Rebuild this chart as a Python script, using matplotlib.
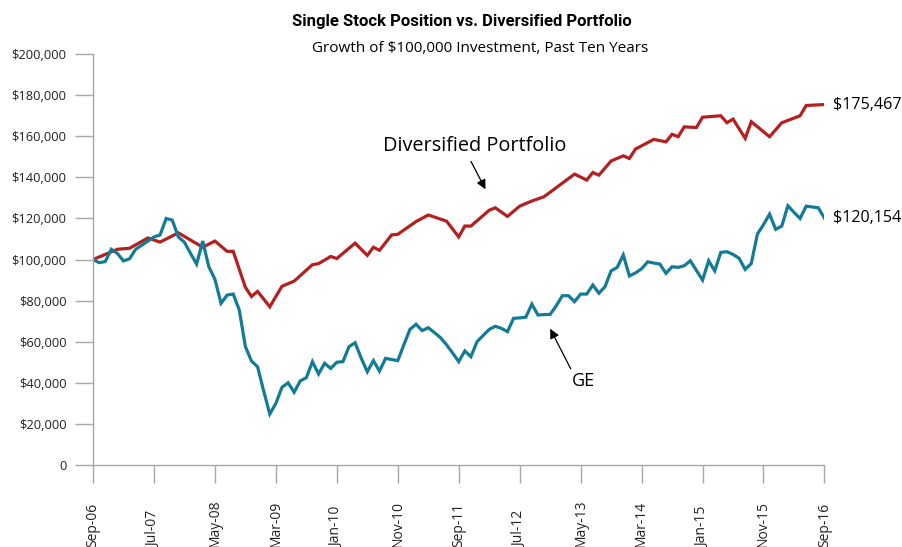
import matplotlib.pyplot as plt
from matplotlib.ticker import FuncFormatter

# months are counted from Sep-06 (0) to Sep-16 (120)
tick_labels = ['Sep-06', 'Jul-07', 'May-08', 'Mar-09', 'Jan-10', 'Nov-10', 'Sep-11',
               'Jul-12', 'May-13', 'Mar-14', 'Jan-15', 'Nov-15', 'Sep-16']
tick_months = [0, 10, 20, 30, 40, 50, 60, 70, 80, 90, 100, 110, 120]

# diversified portfolio (corner points of the line)
div_months = [0, 4, 6, 9, 11, 14, 18, 20, 22, 23, 25, 26, 27, 29, 31, 33, 36, 37, 39, 40,
              43, 45, 46, 47, 49, 50, 53, 55, 58, 60, 61, 62, 65, 66, 68, 70, 72, 74, 79, 81,
              82, 83, 85, 87, 88, 89, 92, 94, 95, 96, 97, 99, 100, 103, 104, 105, 107, 108,
              111, 113, 116, 117, 120]
div_values = [100000, 105000, 105500, 110500, 108500, 113000, 106000, 109000, 104000, 104000,
              86500, 82000, 84500, 77000, 87000, 89500, 97500, 98000, 101500, 100500,
              108000, 102000, 106000, 104500, 112000, 112300, 118500, 121700, 118700, 111000,
              116300, 116300, 124000, 125200, 121000, 126000, 128500, 130600, 141600, 138700,
              142400, 141100, 148000, 150500, 149200, 153800, 158500, 157300, 161000, 159800,
              164600, 164300, 169300, 170000, 166600, 168400, 159000, 167100,
              159800, 166600, 170000, 175000, 175467]

# GE, one value per month
ge_values = [100000, 98500, 99000, 105000, 103000, 99300, 100400, 105000, 107000, 109000,
             111000, 112000, 120000, 119200, 111000, 108400, 103000, 97800, 109000, 96500,
             90400, 78700, 82700, 83200, 75400, 57600, 50600, 47800, 36000, 24800,
             30000, 37800, 40000, 35400, 40900, 42500, 50300, 44300, 49500, 47000,
             50000, 50300, 57600, 59500, 52000, 45400, 50800, 45700, 51900, 51300,
             50800, 58500, 66000, 68500, 65400, 66800, 64500, 62000, 58500, 54500,
             50300, 55500, 52700, 60000, 63000, 66000, 67500, 66500, 64900, 71400,
             71600, 71900, 78300, 73000, 73200, 73300, 77500, 82400, 82400, 79500,
             83200, 83200, 87600, 83600, 86800, 94500, 96200, 102200, 92000, 93500,
             95500, 98900, 98300, 97800, 93300, 96500, 96200, 97000, 99400, 94700,
             90000, 99400, 94500, 103500, 103800, 102500, 100600, 95200, 98100, 112400,
             117000, 122100, 114700, 116300, 126200, 123000, 120000, 126000, 125600, 125200,
             120154]
ge_months = list(range(len(ge_values)))

red = '#b3201f'
teal = '#137b95'
grey = '#a6a6a6'

plt.rcParams['font.family'] = ['Open Sans', 'DejaVu Sans']

fig = plt.figure(figsize=(9.03, 5.47), dpi=100)
ax = fig.add_axes([0.103, 0.150, 0.810, 0.751])

ax.plot(div_months, div_values, color=red, lw=2.3, solid_joinstyle='miter')
ax.plot(ge_months, ge_values, color=teal, lw=2.3, solid_joinstyle='miter')

ax.set_xlim(0, 120)
ax.set_ylim(0, 200000)

# axes look: only left and bottom lines, grey, long outward ticks
for side in ['top', 'right']:
    ax.spines[side].set_visible(False)
for side in ['left', 'bottom']:
    ax.spines[side].set_color(grey)
    ax.spines[side].set_linewidth(1.0)
ax.tick_params(axis='both', direction='out', length=13, width=1.0, color=grey,
               labelsize=9.3, labelcolor='#222222')
ax.tick_params(axis='y', pad=6)

ax.set_yticks(range(0, 200001, 20000))
ax.yaxis.set_major_formatter(FuncFormatter(lambda v, p: '0' if v == 0 else '${:,.0f}'.format(v)))

ax.set_xticks(tick_months)
ax.set_xticklabels(tick_labels, rotation=90, va='bottom', fontsize=10)
ax.tick_params(axis='x', pad=46)

# end values
ax.text(121.4, div_values[-1], '${:,}'.format(div_values[-1]), fontsize=11.6,
        va='center', ha='left', clip_on=False)
ax.text(121.4, ge_values[-1], '${:,}'.format(ge_values[-1]), fontsize=11.6,
        va='center', ha='left', clip_on=False)

# labels with arrows
ax.annotate('', xy=(64.6, 133000), xytext=(61.8, 149000),
            arrowprops=dict(arrowstyle='-|>', color='black', lw=0.9, mutation_scale=14))
ax.text(62.7, 155500, 'Diversified Portfolio', fontsize=14.3, ha='center', va='center')
ax.annotate('', xy=(74.8, 67500), xytext=(78.6, 45500),
            arrowprops=dict(arrowstyle='-|>', color='black', lw=0.9, mutation_scale=14))
ax.text(80.5, 40800, 'GE', fontsize=13, ha='center', va='center')

fig.text(0.511, 0.961, 'Single Stock Position vs. Diversified Portfolio', ha='center',
         va='center', fontsize=12, fontweight='bold', family=['Roboto', 'DejaVu Sans'])
fig.text(0.532, 0.912, 'Growth of $100,000 Investment, Past Ten Years', ha='center',
         va='center', fontsize=11)

fig.savefig('out.png', dpi=100)
